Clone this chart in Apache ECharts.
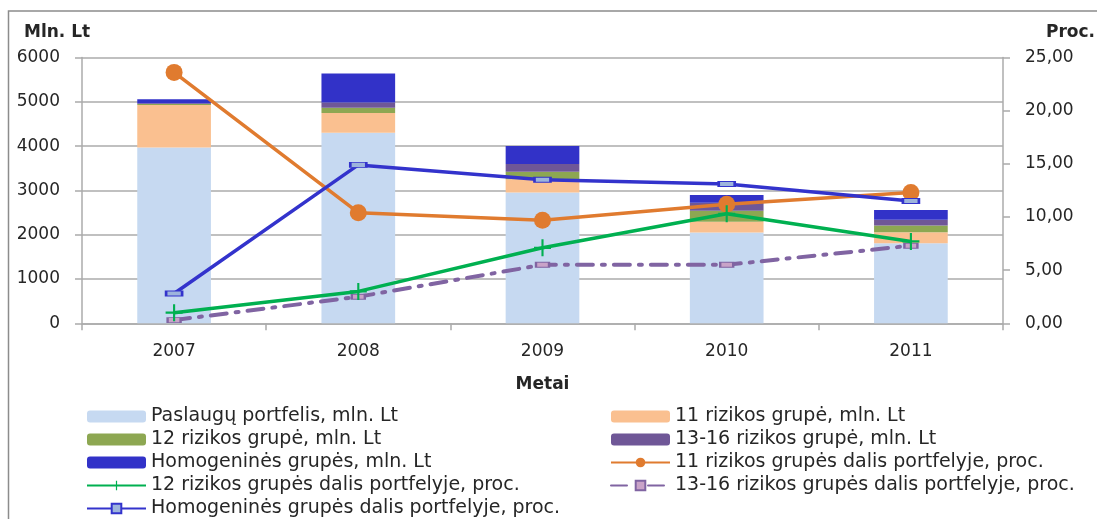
<!DOCTYPE html>
<html>
<head>
<meta charset="utf-8">
<script src="https://cdn.jsdelivr.net/npm/echarts@6/dist/echarts.min.js"></script>
<style>
  html, body { margin: 0; padding: 0; background: #fff; }
  #chart { width: 1097px; height: 519px; }
</style>
</head>
<body>
<div id="chart"></div>
<script>
// Years on the category axis
var metai = ['2007', '2008', '2009', '2010', '2011'];

// Stacked portfolio parts, mln. Lt
var paslauguPortfelis = [3970, 4300, 2950, 2050, 1805];
var grupe11 = [960, 450, 300, 240, 250];
var grupe12 = [20, 115, 170, 250, 150];
var grupe1316 = [15, 120, 175, 180, 130];
var homogenines = [90, 655, 405, 175, 225];

// Shares of the portfolio, proc.
var dalis11 = [23.6, 10.4, 9.7, 11.2, 12.3];
var dalis12 = [1.0, 3.0, 7.1, 10.3, 7.7];
var dalis1316 = [0.3, 2.5, 5.5, 5.5, 7.3];
var dalisHomog = [2.8, 14.9, 13.5, 13.1, 11.5];

// Axis ticks
var leftTicks = [0, 1000, 2000, 3000, 4000, 5000, 6000];
var rightTicks = [0, 5, 10, 15, 20, 25];

var FONT = 'DejaVu Sans';
var TXT = '#262626';
var GRID = '#ABABAB';

var names = {
  pasl: 'Paslaugų portfelis, mln. Lt',
  g11: '11 rizikos grupė, mln. Lt',
  g12: '12 rizikos grupė, mln. Lt',
  g1316: '13-16 rizikos grupė, mln. Lt',
  hom: 'Homogeninės grupės, mln. Lt',
  d11: '11 rizikos grupės dalis portfelyje, proc.',
  d12: '12 rizikos grupės dalis portfelyje, proc.',
  d1316: '13-16 rizikos grupės dalis portfelyje, proc.',
  dhom: 'Homogeninės grupės dalis portfelyje, proc.'
};

var plusPath = 'path://M7,0H9V7H16V9H9V16H7V9H0V7H7Z';

function bar(name, data, color) {
  return {
    name: name, type: 'bar', stack: 'portfelis', data: data,
    barWidth: '40%', itemStyle: { color: color }, z: 1
  };
}

var chart = echarts.init(document.getElementById('chart'), null, { renderer: 'canvas' });

var legendText = { fontFamily: FONT, fontSize: 19, color: TXT };

// Two legend columns, each a vertical list with room for all its rows
function legendColumn(left, data) {
  return {
    orient: 'vertical', left: left, top: 407, height: 140, padding: 0,
    itemWidth: 59, itemHeight: 12, itemGap: 4,
    textStyle: legendText, selectedMode: false, data: data
  };
}

chart.setOption({
  animation: false,
  backgroundColor: '#fff',
  textStyle: { fontFamily: FONT },
  grid: { left: 82, right: 94, top: 57.5, bottom: 195.7, containLabel: false },
  graphic: [
    { type: 'rect', shape: { x: 8.5, y: 11, width: 1110, height: 540 },
      style: { fill: 'none', stroke: '#8C8C8C', lineWidth: 1.5 }, silent: true },
    { type: 'text', left: 24, top: 24,
      style: { text: 'Mln. Lt', font: 'bold 17px "DejaVu Sans"', fill: TXT } },
    { type: 'text', right: 2, top: 24,
      style: { text: 'Proc.', font: 'bold 17px "DejaVu Sans"', fill: TXT } }
  ],
  legend: [
    legendColumn(86, [names.pasl, names.g12, names.hom, names.d12, names.dhom]),
    legendColumn(610, [names.g11, names.g1316, names.d11, names.d1316])
  ],
  xAxis: {
    type: 'category', data: metai, boundaryGap: true,
    name: 'Metai', nameLocation: 'middle', nameGap: 53,
    nameTextStyle: { fontFamily: FONT, fontWeight: 'bold', fontSize: 17, color: TXT },
    axisLine: { lineStyle: { color: GRID, width: 1.5 } },
    axisTick: { show: true, length: 7, lineStyle: { color: GRID, width: 1.5 } },
    axisLabel: { fontFamily: FONT, fontSize: 17, color: TXT, margin: 20 }
  },
  yAxis: [
    {
      type: 'value', min: leftTicks[0], max: leftTicks[leftTicks.length - 1], interval: 1000,
      axisLine: { show: true, lineStyle: { color: GRID, width: 1.5 } },
      axisTick: { show: true, length: 7, lineStyle: { color: GRID, width: 1.5 } },
      axisLabel: {
        fontFamily: FONT, fontSize: 17, color: TXT, margin: 22,
        formatter: function (v) { return String(v); }
      },
      splitLine: { show: true, lineStyle: { color: GRID, width: 1.5 } }
    },
    {
      type: 'value', min: rightTicks[0], max: rightTicks[rightTicks.length - 1], interval: 5,
      position: 'right',
      axisLine: { show: true, lineStyle: { color: GRID, width: 1.5 } },
      axisTick: { show: true, length: 7, lineStyle: { color: GRID, width: 1.5 } },
      axisLabel: {
        fontFamily: FONT, fontSize: 17, color: TXT, margin: 22,
        formatter: function (v) { return v.toFixed(2).replace('.', ','); }
      },
      splitLine: { show: false }
    }
  ],
  series: [
    bar(names.pasl, paslauguPortfelis, '#C6D9F1'),
    bar(names.g11, grupe11, '#FAC090'),
    bar(names.g12, grupe12, '#8DA752'),
    bar(names.g1316, grupe1316, '#6F5797'),
    bar(names.hom, homogenines, '#3232C8'),
    {
      name: names.d11, type: 'line', yAxisIndex: 1, data: dalis11, z: 5,
      symbol: 'circle', symbolSize: 17,
      lineStyle: { color: '#E07B2F', width: 3.5 },
      itemStyle: { color: '#E07B2F' }
    },
    {
      name: names.d12, type: 'line', yAxisIndex: 1, data: dalis12, z: 6,
      symbol: plusPath, symbolSize: 17,
      lineStyle: { color: '#00B050', width: 3.5 },
      itemStyle: { color: '#00B050' }
    },
    {
      name: names.d1316, type: 'line', yAxisIndex: 1, data: dalis1316, z: 4,
      symbol: 'rect', symbolSize: [13, 5],
      lineStyle: { color: '#8064A2', width: 4, type: [16, 9, 3, 9], cap: 'round' },
      itemStyle: { color: '#C9A3C8', borderColor: '#8064A2', borderWidth: 1.5 }
    },
    {
      name: names.dhom, type: 'line', yAxisIndex: 1, data: dalisHomog, z: 5,
      symbol: 'rect', symbolSize: [16, 5],
      lineStyle: { color: '#3333CC', width: 3.5 },
      itemStyle: { color: '#9DB4DC', borderColor: '#3333CC', borderWidth: 1.5 }
    }
  ]
});
</script>
</body>
</html>
